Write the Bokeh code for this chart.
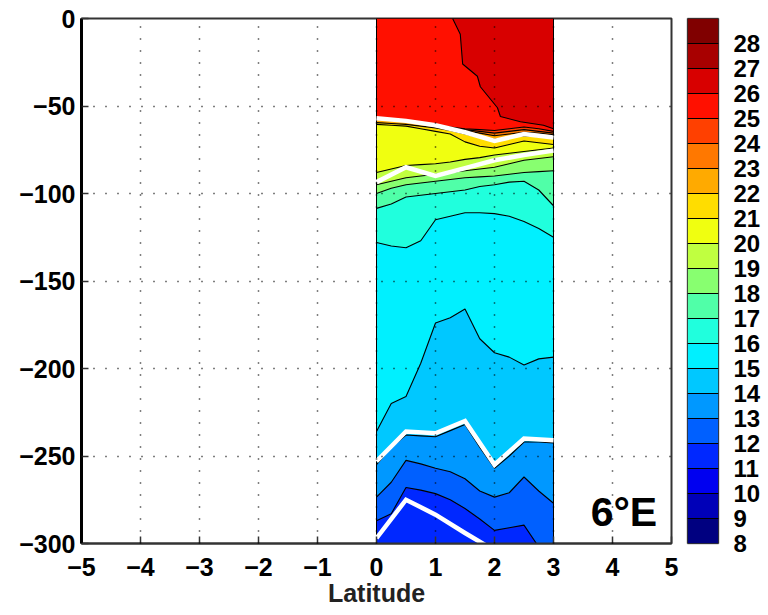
from bokeh.plotting import figure
from bokeh.models import Range1d, Label, FixedTicker
from bokeh.layouts import row
from bokeh.embed import file_html
from bokeh.resources import INLINE

# ---------------- data ----------------
lat = [0.0, 0.25, 0.5, 0.75, 1.0, 1.25, 1.5, 1.75, 2.0, 2.25, 2.5, 2.75, 3.0]

# depth (m) of each isotherm along latitude
iso26_lat = [1.29, 1.42, 1.46, 1.71, 1.76, 2.05, 2.10, 2.44, 2.83, 3.0]
iso26_dep = [0, -9, -26, -33, -39, -51, -56, -59, -61, -63]
iso25 = [-57, -57.7, -58.5, -59.7, -61, -62, -63, -63.5, -64, -63, -62, -63, -64.5]
iso24 = [-57, -57.7, -58.5, -59.7, -61, -62.3, -63.5, -64.5, -65.5, -64.5, -63.5, -64.5, -65.5]
iso23 = [-57, -57.7, -58.5, -59.7, -61, -62.6, -64, -65.5, -67, -66, -65, -65.5, -66.5]
iso22 = [-59.5, -60, -60.5, -61.5, -62.5, -64, -66, -68, -69, -68, -67, -67.5, -68]
iso21 = [-60.5, -61, -61.5, -63, -64.5, -66, -70.5, -73, -74, -72, -70, -71, -72]
iso20 = [-88, -86, -84, -83.5, -83, -82, -80.5, -79.5, -78, -77, -76, -75, -74]
iso19 = [-95, -93, -91, -90, -89, -88, -87, -86, -85, -83, -81, -80, -79]
iso18 = [-100, -97, -95, -94, -93, -92, -91, -90.5, -90, -89, -88, -87.5, -87]
iso17 = [-108.5, -106, -102, -101, -100, -99, -98, -96, -95, -93.5, -93, -98, -107]
iso16 = [-128, -130, -131, -127, -115, -113, -111, -111, -111.5, -113, -116, -120, -125]
iso15 = [-236, -220, -216, -197, -174, -171, -166, -183, -191, -193.5, -198, -194.5, -193.5]
iso14 = [-255, -245, -238, -238.5, -239, -235.5, -232, -245, -257, -250, -242, -242, -242.5]
iso13 = [-273.5, -265, -252.5, -254.5, -257, -259, -263, -270, -273.5, -271, -262, -270, -277]
iso12 = [-287, -283, -268, -269.5, -271.5, -275, -280, -286, -292.5, -291, -289.5, -302, -308]

# white reference lines
wlat = [0.0, 0.5, 1.0, 1.5, 2.0, 2.5, 3.0]
white_a = [-57, -58.5, -61, -65, -70, -66, -68]
white_b = [-93.5, -85, -90, -85.5, -81, -78, -75.5]
white_c = [-253, -236, -237, -230, -255, -240, -241]
wlat_d = [0.0, 0.5, 1.0, 1.5, 2.0]
white_d = [-297, -275, -283.5, -294, -304]

# colour levels
levels = list(range(8, 29))
band_colors = ["#000080", "#0000B8", "#0000F0", "#0028FF", "#0060FF", "#0098FF",
               "#00C8FF", "#00F0FF", "#20FFDD", "#50FFA8", "#88FF70", "#C0FF40",
               "#F0FF10", "#FFDD00", "#FFAA00", "#FF7800", "#FF4000", "#FF1000",
               "#D80000", "#A80000", "#800000"]
color_of = dict(zip(levels, band_colors))

xticks = [-5, -4, -3, -2, -1, 0, 1, 2, 3, 4, 5]
yticks = [-300, -250, -200, -150, -100, -50, 0]

def lab(v):
    return ("\u2212" + str(abs(v))) if v < 0 else str(v)

FONT = "Liberation Sans"

# ---------------- main figure ----------------
p = figure(width=681, height=614, output_backend="svg", toolbar_location=None,
           x_range=Range1d(-5, 5), y_range=Range1d(-300, 0),
           min_border_left=81, min_border_right=10, min_border_top=18,
           min_border_bottom=71)
p.background_fill_color = "white"
p.border_fill_color = "white"
p.outline_line_color = "#333333"
p.outline_line_width = 2

BOTTOM = -330
p.quad(left=[lat[0]], right=[lat[-1]], top=[0], bottom=[-300],
       fill_color=color_of[26], line_color=None)

xs26 = [lat[0]] + iso26_lat + [lat[-1], lat[0]]
ys26 = [0] + iso26_dep + [BOTTOM, BOTTOM]
p.patch(xs26, ys26, fill_color=color_of[25], line_color=None)

isos = [(25, iso25), (24, iso24), (23, iso23), (22, iso22), (21, iso21),
        (20, iso20), (19, iso19), (18, iso18), (17, iso17), (16, iso16),
        (15, iso15), (14, iso14), (13, iso13), (12, iso12)]
for L, d in isos:
    xs = lat + [lat[-1], lat[0]]
    ys = d + [BOTTOM, BOTTOM]
    p.patch(xs, ys, fill_color=color_of[L - 1], line_color=None)

p.line(iso26_lat, iso26_dep, line_color="black", line_width=1.1)
for L, d in isos:
    p.line(lat, d, line_color="black", line_width=1.1)

p.quad(left=[lat[0]], right=[lat[-1]], top=[0], bottom=[-300],
       fill_color=None, line_color="black", line_width=1)

for wx, wy in [(wlat, white_a), (wlat, white_b), (wlat, white_c), (wlat_d, white_d)]:
    p.line(wx, wy, line_color="white", line_width=4.5, line_join="miter")

for g in (p.xgrid, p.ygrid):
    g.grid_line_color = "black"
    g.grid_line_dash = "1 11"
    g.grid_line_width = 1.5
    g.level = "overlay"
p.xgrid.ticker = FixedTicker(ticks=xticks)
p.ygrid.ticker = FixedTicker(ticks=yticks)

p.xaxis.ticker = FixedTicker(ticks=xticks)
p.yaxis.ticker = FixedTicker(ticks=yticks)
p.xaxis.major_label_overrides = {v: lab(v) for v in xticks}
p.yaxis.major_label_overrides = {v: lab(v) for v in yticks}
for ax in (p.xaxis, p.yaxis):
    ax.major_label_text_font = FONT
    ax.major_label_text_font_style = "bold"
    ax.major_label_text_font_size = "25px"
    ax.major_label_text_color = "black"
    ax.major_tick_in = 7
    ax.major_tick_out = 0
    ax.minor_tick_line_color = None
    ax.major_tick_line_color = "#333333"
    ax.major_tick_line_width = 1.5
p.yaxis.axis_line_color = "black"
p.yaxis.axis_line_width = 3
p.xaxis.axis_line_color = "#333333"
p.xaxis.axis_line_width = 2
p.yaxis.major_label_standoff = 6
p.xaxis.major_label_standoff = 14
p.xaxis.axis_label = "Latitude"
p.xaxis.axis_label_text_font = FONT
p.xaxis.axis_label_text_font_style = "bold"
p.xaxis.axis_label_text_font_size = "25px"
p.xaxis.axis_label_text_color = "#222222"
p.xaxis.axis_label_standoff = 0

p.add_layout(Label(x=3.63, y=-282, text="6\u00b0E", text_font=FONT,
                   text_font_style="bold", text_font_size="41px",
                   text_color="black", text_baseline="alphabetic"))

# ---------------- colour bar ----------------
cb = figure(width=82, height=614, output_backend="svg", toolbar_location=None,
            x_range=Range1d(0, 1), y_range=Range1d(8, 29),
            x_axis_location=None, y_axis_location="right",
            min_border_left=6, min_border_right=45, min_border_top=5,
            min_border_bottom=71)
cb.background_fill_color = "white"
cb.border_fill_color = "white"
cb.outline_line_color = "#777777"
cb.outline_line_width = 1.5
cb.xgrid.visible = False
cb.ygrid.visible = False
cb.quad(left=0, right=1, bottom=levels, top=[v + 1 for v in levels],
        fill_color=band_colors, line_color="black", line_width=1)
cb.yaxis.ticker = FixedTicker(ticks=levels)
cb.yaxis.axis_line_color = None
cb.yaxis.major_tick_in = 0
cb.yaxis.major_tick_out = 0
cb.yaxis.major_label_standoff = 15
cb.yaxis.major_label_text_font = FONT
cb.yaxis.major_label_text_font_style = "bold"
cb.yaxis.major_label_text_font_size = "24px"
cb.yaxis.major_label_text_color = "black"

layout = row(p, cb)
open("out.html", "w").write(file_html(layout, INLINE))
